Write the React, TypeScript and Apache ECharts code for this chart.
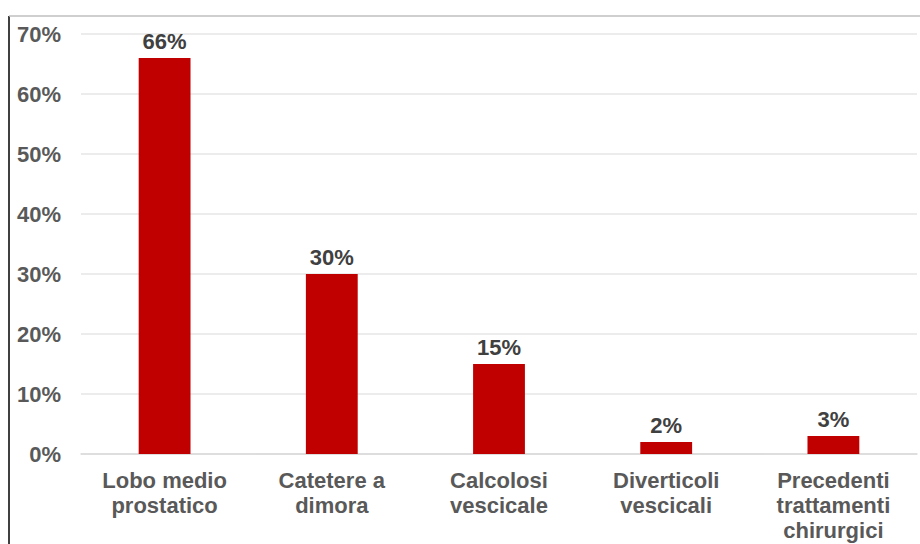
import React, { useEffect, useRef } from "react";
import * as echarts from "echarts";

const categories = [
  "Lobo medio\nprostatico",
  "Catetere a\ndimora",
  "Calcolosi\nvescicale",
  "Diverticoli\nvescicali",
  "Precedenti\ntrattamenti\nchirurgici",
];
const values = [66, 30, 15, 2, 3];

const FONT = "'Liberation Sans', Arial, sans-serif";

export default function App() {
  const ref = useRef<HTMLDivElement>(null);
  useEffect(() => {
    if (!ref.current) return;
    const chart = echarts.init(ref.current, null, { renderer: "svg" });
    chart.setOption({
      animation: false,
      backgroundColor: "#ffffff",
      textStyle: { fontFamily: FONT },
      grid: { left: 81, right: 3, top: 34, bottom: 90, containLabel: false },
      graphic: [
        { type: "line", shape: { x1: 9, y1: 16, x2: 9, y2: 544 }, style: { stroke: "#000000", lineWidth: 1.5 } },
        { type: "line", shape: { x1: 9, y1: 16, x2: 920, y2: 16 }, style: { stroke: "#bfbfbf", lineWidth: 1.5 } },
      ],
      xAxis: {
        type: "category",
        data: categories,
        axisTick: { show: false },
        axisLine: { show: true, lineStyle: { color: "#d9d9d9", width: 1.5 } },
        axisLabel: {
          interval: 0,
          margin: 14,
          color: "#595959",
          fontSize: 22,
          fontWeight: "bold",
          lineHeight: 25,
          fontFamily: FONT,
        },
      },
      yAxis: {
        type: "value",
        min: 0,
        max: 70,
        interval: 10,
        axisLine: { show: false },
        axisTick: { show: false },
        splitLine: { lineStyle: { color: "#e6e6e6", width: 1.5 } },
        axisLabel: {
          formatter: "{value}%",
          color: "#595959",
          fontSize: 22,
          fontWeight: "bold",
          margin: 20,
          fontFamily: FONT,
        },
      },
      series: [
        {
          type: "bar",
          data: values,
          barWidth: "31%",
          itemStyle: { color: "#c00000" },
          label: {
            show: true,
            position: "top",
            distance: 6,
            formatter: "{c}%",
            color: "#404040",
            fontSize: 22,
            fontWeight: "bold",
            fontFamily: FONT,
          },
        },
      ],
    });
    return () => chart.dispose();
  }, []);
  return (
    <div
      ref={ref}
      style={{ position: "fixed", left: 0, top: 0, width: 920, height: 544 }}
    />
  );
}
